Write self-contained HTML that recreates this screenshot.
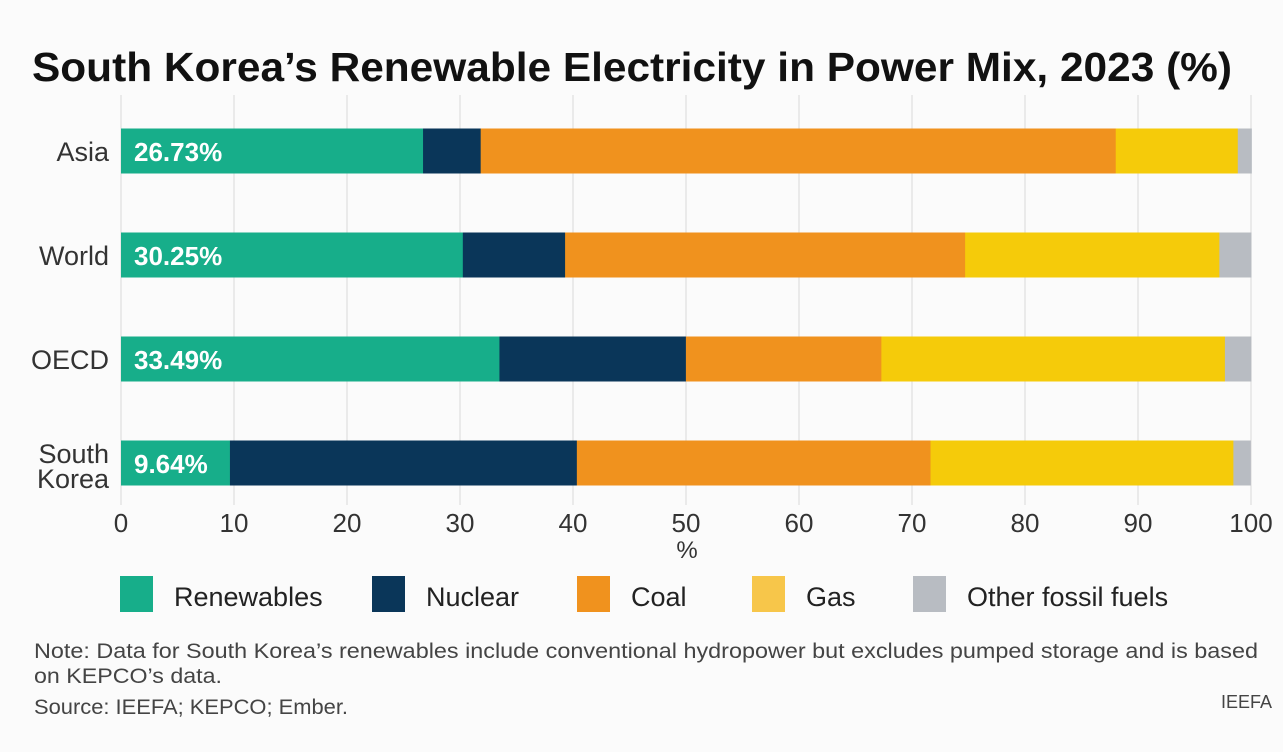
<!DOCTYPE html>
<html><head><meta charset="utf-8"><style>
body{margin:0;background:#fbfbfb;font-family:"Liberation Sans",sans-serif;}
svg{display:block}
</style></head><body>
<svg id="chart" width="1283" height="752" xmlns="http://www.w3.org/2000/svg">
<rect width="1283" height="752" fill="#fbfbfb"/>
<text x="32" y="81" font-size="41" font-weight="bold" fill="#111" textLength="1200" lengthAdjust="spacingAndGlyphs">South Korea’s Renewable Electricity in Power Mix, 2023 (%)</text>
<g id="grid"></g><g id="bars"></g><g id="ylabels"></g><g id="xticks"></g>
<text x="687" y="558" font-size="24" fill="#333" text-anchor="middle">%</text>
<g id="legend"></g>
<text x="34" y="658" font-size="21" fill="#444" textLength="1224" lengthAdjust="spacingAndGlyphs">Note: Data for South Korea’s renewables include conventional hydropower but excludes pumped storage and is based</text>
<text x="34" y="683" font-size="21" fill="#444" textLength="188" lengthAdjust="spacingAndGlyphs">on KEPCO’s data.</text>
<text x="34" y="714" font-size="21" fill="#444" textLength="314" lengthAdjust="spacingAndGlyphs">Source: IEEFA; KEPCO; Ember.</text>
<text x="1272" y="708" font-size="18" fill="#444" text-anchor="end">IEEFA</text>
</svg>
<script>
const categories=["Asia","World","OECD","South Korea"];
const renewables=[26.73,30.25,33.49,9.64];
const nuclear=[5.1,9.05,16.5,30.7];
const coal=[56.2,35.4,17.3,31.3];
const gas=[10.8,22.5,30.4,26.8];
const other=[1.2,2.8,2.3,1.5];
const seriesNames=["Renewables","Nuclear","Coal","Gas","Other fossil fuels"];
const xTicks=[0,10,20,30,40,50,60,70,80,90,100];
const colors=["#17ae8a","#0a3659","#f0921e","#f5cb0a","#b8bcc2"];
const legendColors=["#17ae8a","#0a3659","#f0921e","#f7c64a","#b8bcc2"];
const NS="http://www.w3.org/2000/svg";
const x=v=>121+v*11.3;
const yc=i=>151+i*104;
const bh=45;
function mk(t,a,p){const e=document.createElementNS(NS,t);for(const k in a)e.setAttribute(k,a[k]);p.appendChild(e);return e;}
const grid=document.getElementById('grid'),bars=document.getElementById('bars'),yl=document.getElementById('ylabels'),xt=document.getElementById('xticks'),lg=document.getElementById('legend');
xTicks.forEach(t=>{
 const l=mk('line',{x1:x(t),x2:x(t),y1:95,y2:505,stroke:'#d8d8d8','stroke-width':1},grid);
 
 
 const tx=mk('text',{x:x(t),y:532,'font-size':26,fill:'#333','text-anchor':'middle'},xt);
 tx.textContent=t;
 
 
});
const series=[renewables,nuclear,coal,gas,other];
categories.forEach((c,i)=>{
 let acc=0;
 series.forEach((s,j)=>{
  const r=mk('rect',{x:x(acc),y:yc(i)-bh/2,width:x(acc+s[i])-x(acc)+0.5,height:bh,fill:colors[j]},bars);
  
  
  acc+=s[i];
 });
 const v=mk('text',{x:134,y:yc(i)+10,'font-size':26,'font-weight':'bold',fill:'#fff'},bars);
 v.textContent=renewables[i].toFixed(2)+'%';
 
 
 const parts=c==="South Korea"?["South","Korea"]:[c];
 parts.forEach((p,k)=>{
  const t=mk('text',{x:109,y:yc(i)+(parts.length>1?(k?25:0):10),'font-size':27,fill:'#333','text-anchor':'end'},yl);
  t.textContent=p;
  
  
 });
});
const lx=[120,372,577,752,913];
seriesNames.forEach((n,j)=>{
 const r=mk('rect',{x:lx[j],y:576,width:33,height:36,fill:legendColors[j]},lg);
 
 
 const t=mk('text',{x:lx[j]+54,y:606,'font-size':27,fill:'#222'},lg);
 t.textContent=n;
 
 
});
</script>
</body></html>
